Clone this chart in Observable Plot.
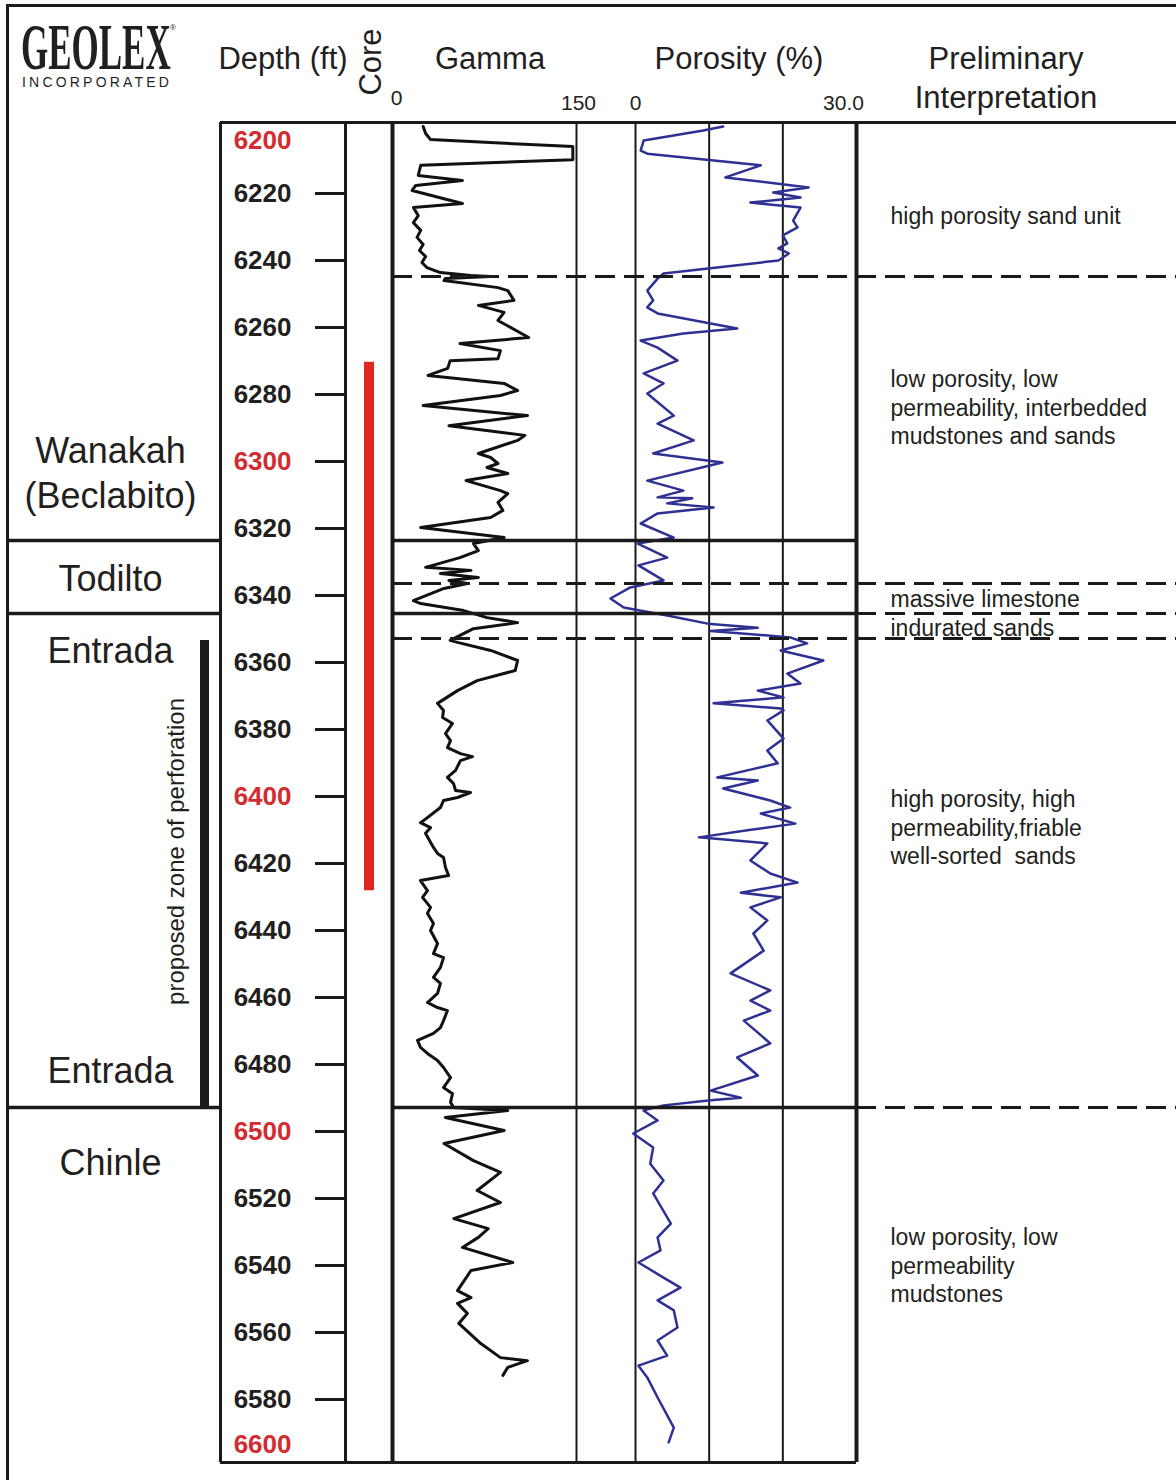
<!DOCTYPE html>
<html>
<head>
<meta charset="utf-8">
<script src="https://cdn.jsdelivr.net/npm/d3@7"></script>
<script src="https://cdn.jsdelivr.net/npm/@observablehq/plot@0.6"></script>
<style>
  body { margin: 0; background: #fff; }
  #page { position: relative; width: 1176px; height: 1480px; overflow: hidden; background: #fff;
          font-family: "Liberation Sans", Arial, Helvetica, sans-serif; color: #231f20; }
  #page svg { position: absolute; left: 0; top: 0; }
  .h { position: absolute; white-space: nowrap; line-height: 1; transform: translate(-50%, -50%); }
  #outer { position: absolute; left: 6px; top: 4px; width: 1200px; height: 1500px;
           border-top: 3px solid #1a1a1a; border-left: 3px solid #1a1a1a; box-sizing: border-box; }
</style>
</head>
<body>
<div id="page"><div id="outer"></div></div>
<script>
// ---------------- DATA ----------------
const gammaDepth = [6200.0,6202.1,6203.9,6206.0,6209.9,6211.6,6214.6,6216.1,6217.6,6219.1,6223.0,6224.2,6226.6,6228.7,6231.0,6233.1,6235.2,6237.0,6238.8,6240.6,6242.1,6243.6,6244.5,6244.8,6245.4,6246.0,6248.1,6249.0,6251.9,6253.4,6255.5,6257.9,6263.0,6264.8,6266.9,6269.3,6269.9,6272.2,6274.3,6276.7,6278.8,6280.3,6283.3,6286.3,6289.3,6292.2,6293.7,6297.6,6298.8,6300.6,6301.8,6303.6,6305.7,6308.7,6309.6,6312.2,6314.6,6316.7,6319.7,6322.7,6324.5,6326.6,6328.7,6331.6,6332.5,6333.4,6334.6,6335.5,6336.4,6337.9,6341.5,6342.4,6344.5,6346.6,6348.1,6349.9,6353.4,6354.0,6356.4,6359.4,6362.4,6365.4,6368.4,
  6372.2,6374.3,6376.4,6378.2,6381.2,6383.3,6385.4,6387.2,6388.1,6389.3,6392.2,6394.3,6396.1,6398.2,6398.8,6400.3,6401.2,6403.3,6407.2,6407.8,6409.3,6411.0,6415.2,6417.0,6418.2,6421.2,6423.6,6425.1,6428.1,6430.1,6433.1,6434.9,6437.9,6440.0,6443.9,6446.9,6448.1,6451.0,6454.0,6455.8,6458.8,6461.5,6463.0,6463.9,6466.9,6469.0,6470.7,6472.8,6474.9,6476.7,6478.8,6480.9,6483.9,6486.9,6488.7,6491.3,6492.8,
  6493.7,6495.8,6499.7,6503.6,6508.7,6512.2,6517.6,6521.2,6526.0,6529.0,6531.6,6534.6,6539.1,6541.5,6547.5,6549.6,6551.3,6554.3,6557.3,6563.3,6567.5,6568.4,6570.4,6572.8];
const gammaValue = [25,27,31,147,147,23,21,57,19,16,57,17,21,17,23,20,25,22,27,24,28,39,64,80,43,42,86,94,99,70,91,86,111,55,88,86,47,45,29,91,102,88,25,110,46,108,102,70,80,86,77,94,60,88,94,86,90,80,23,91,66,70,55,27,64,39,70,46,61,42,17,23,58,77,102,66,47,53,80,102,100,69,53,
  36.7,41.6,40.8,48.9,43.2,47.3,44.8,55.4,65.2,55.4,51.4,44.8,49.7,51.4,63.6,53.0,41.6,39.1,25.3,22.8,31.0,26.9,33.4,36.7,41.6,43.2,45.7,22.8,28.5,24.5,31.0,28.5,33.4,31.0,36.7,33.4,41.6,39.1,33.4,39.1,36.7,28.5,36.7,44.8,41.6,39.1,33.4,20.4,22.8,28.5,36.7,41.6,47.3,41.6,48.9,47.3,49.7,
  94,43,91,42,66,88,69,88,50,78,70,57,98,64,53,64,53,61,54,72,88,110,94,90];

const porosityDepth = [6200.0,6201.2,6204.2,6207.2,6208.1,6211.6,6215.2,6218.2,6219.7,6221.2,6222.7,6224.2,6228.1,6230.1,6232.5,6234.9,6236.4,6237.9,6240.0,6243.9,6245.4,6249.0,6251.9,6254.0,6255.8,6260.3,6261.8,6263.9,6266.0,6269.9,6273.7,6276.7,6279.7,6286.3,6288.7,6293.7,6297.6,6300.3,6305.7,6308.7,6310.7,6311.0,6312.5,6313.7,6315.5,6318.5,6322.7,6324.5,6328.7,6331.0,6335.5,6337.6,6340.9,6343.6,6346.0,6348.4,6349.6,6350.6,6352.5,6354.3,6356.4,6359.4,6363.3,6366.3,6368.4,6370.4,6372.2,6373.7,6374.3,6377.3,6382.7,6386.3,6390.1,6394.3,6395.2,6397.6,6401.2,6403.3,6405.1,6408.1,6410.1,6412.2,6414.0,6419.1,6423.0,6425.7,6428.7,6430.1,6433.1,6437.0,6440.9,6446.0,6452.8,6457.9,6460.9,6463.9,6466.9,6473.7,6477.9,6483.3,6487.8,6489.9,6490.7,6492.2,6493.7,6496.7,6500.6,6504.8,6509.6,6514.6,6518.5,6527.5,6531.6,6535.5,6539.1,6543.6,6546.6,6550.4,6553.4,6558.5,6562.4,6566.9,6569.9,6573.4,6579.4,6588.4,6592.8];
const porosityValue = [11.9,9.2,1.1,0.7,1.6,17.0,12.2,23.5,18.7,22.4,15.6,22.4,21.4,22.0,20.0,20.6,19.4,20.8,19.4,3.8,3.0,1.6,2.4,1.6,3.0,13.8,6.5,0.7,3.0,5.7,1.1,3.8,1.6,5.2,3.0,7.9,2.4,11.8,1.6,6.5,3.0,7.7,4.3,10.6,3.0,0.7,5.2,0.3,4.3,0.4,3.8,-0.7,-3.4,-1.6,4.3,9.8,16.6,10.2,21.0,23.3,19.7,25.5,20.6,22.4,16.6,20.1,10.6,19.7,20.1,17.9,20.1,17.9,19.3,11.1,16.6,11.9,18.3,21.0,17.0,21.7,15.2,8.6,17.9,15.6,18.3,22.0,14.3,19.7,15.6,17.9,16.0,17.4,12.9,18.3,15.6,18.3,14.7,18.3,13.8,16.6,10.2,14.3,10.2,3.8,1.1,3.0,-0.3,2.4,2.0,3.8,2.4,4.8,3.0,3.4,0.4,3.8,6.1,3.0,5.2,5.7,3.0,4.3,0.4,1.6,3.0,5.2,4.5];

const depthTicks = [6220,6240,6260,6280,6300,6320,6340,6360,6380,6400,6420,6440,6460,6480,6500,6520,6540,6560,6580];
const depthRedLabels = [6300,6400,6500];
const depthTopLabel = [6200];
const depthBottomLabel = [6600];
const gammaTicks = [0,150];
const porosityTicks = [0,30];
const porosityGrid = [0,10,20];

const formationNames = ["Wanakah\n(Beclabito)","Todilto","Entrada","Entrada","Chinle"];
const formationLabelDepths = [6302.8,6334.3,6355.8,6481.2,6508.7];
const formationTops = [6323.6,6345.4,6492.8];       // Todilto, Entrada, Chinle
const dashedMarkers = [6244.8,6336.4,6352.8];

const coreInterval = [6270.4,6428.1];
const perforationInterval = [6353.4,6492.8];
const perforationLabel = "proposed zone of perforation";
const perforationLabelDepth = 6416.4;

const interpTexts = [
  "high porosity sand unit",
  "low porosity, low\npermeability, interbedded\nmudstones and sands",
  "massive limestone",
  "indurated sands",
  "high porosity, high\npermeability,friable\nwell-sorted  sands",
  "low porosity, low\npermeability\nmudstones"
];
const interpDepths = [6226.3,6283.6,6340.6,6349.3,6409.0,6539.7];

// ---------------- LAYOUT ----------------
const W = 1176, H = 1480, TOP = 126, BOTTOM = 14;
const COL = {outer: 8, depth: 220, core: 345, gamma: 392, gammaEnd: 576, poro: 635, poroEnd: 856, right: 1176};
const FONT = "Liberation Sans, Arial, Helvetica, sans-serif";
const LINE = "#1a1a1a", TEXT = "#231f20", RED = "#d42a31", CORE_RED = "#e3261f", BLUE = "#2e3192";
const DEPTH_DOMAIN = [6200, 6600];
const FRAME_DY = -4;

const gammaData = gammaDepth.map((d, i) => ({depth: d, gamma: gammaValue[i]})).filter(d => d.gamma != null);
const porosityData = porosityDepth.map((d, i) => ({depth: d, porosity: porosityValue[i]})).filter(d => d.porosity != null);
const formationLabels = formationNames.map((name, i) => ({name, depth: formationLabelDepths[i]}));
const interpData = interpTexts.map((text, i) => ({text, depth: interpDepths[i]}));

function column(left, right, x, y, marks) {
  return Plot.plot({
    width: W, height: H,
    marginLeft: left, marginRight: W - right, marginTop: TOP, marginBottom: BOTTOM,
    x, y: {domain: DEPTH_DOMAIN, reverse: true, label: null, ...y},
    style: {background: "transparent", overflow: "visible", fontFamily: FONT},
    marks
  });
}
const page = document.getElementById("page");
const fullRule = {y1: DEPTH_DOMAIN[0], y2: DEPTH_DOMAIN[1], dy: FRAME_DY, stroke: LINE};

// Gamma track
page.appendChild(column(COL.gamma, COL.gammaEnd, {domain: [0, 150], label: null}, {axis: null}, [
  Plot.ruleX([150], {...fullRule, strokeWidth: 2}),
  Plot.line(gammaData, {x: "gamma", y: "depth", stroke: "#111", strokeWidth: 3}),
  Plot.ruleX([0], {...fullRule, strokeWidth: 4}),
  Plot.axisX([gammaTicks[0]], {anchor: "top", tickSize: 0, tickPadding: 22, dx: 4, fontSize: 21, label: null, color: TEXT, tickFormat: d => String(d)}),
  Plot.axisX([gammaTicks[1]], {anchor: "top", tickSize: 0, tickPadding: 17, dx: 2, fontSize: 21, label: null, color: TEXT, tickFormat: d => String(d)})
]));

// Porosity track
page.appendChild(column(COL.poro, COL.poroEnd, {domain: [0, 30], label: null}, {axis: null}, [
  Plot.ruleX(porosityGrid, {...fullRule, strokeWidth: 2}),
  Plot.line(porosityData, {x: "porosity", y: "depth", stroke: BLUE, strokeWidth: 2.5}),
  Plot.ruleX([30], {...fullRule, strokeWidth: 4}),
  Plot.axisX([porosityTicks[0]], {anchor: "top", tickSize: 0, tickPadding: 17, fontSize: 21, label: null, color: TEXT, tickFormat: d => String(d)}),
  Plot.axisX([porosityTicks[1]], {anchor: "top", tickSize: 0, tickPadding: 17, dx: -13, fontSize: 21, label: null, color: TEXT, tickFormat: d => d.toFixed(1)})
]));

// Depth axis + core column
const depthBlack = depthTicks.filter(d => !depthRedLabels.includes(d));
const depthAxisOpts = {anchor: "left", tickSize: 30, tickPadding: 24, strokeWidth: 3, stroke: LINE,
  fontSize: 26, fontWeight: "bold", label: null, tickFormat: d => String(d)};
const endLabelOpts = {frameAnchor: "left", y: d => d, text: d => String(d), dx: -54, textAnchor: "end",
  fontSize: 26, fontWeight: "bold", fill: RED};
page.appendChild(column(COL.core, COL.gamma, {domain: [0, 1], axis: null}, {}, [
  Plot.axisY(depthBlack, {...depthAxisOpts, color: TEXT}),
  Plot.axisY(depthRedLabels, {...depthAxisOpts, color: RED}),
  Plot.text(depthTopLabel, {...endLabelOpts, dy: 14}),
  Plot.text(depthBottomLabel, {...endLabelOpts, dy: -22}),
  Plot.ruleX([0.5], {y1: coreInterval[0], y2: coreInterval[1], stroke: CORE_RED, strokeWidth: 10})
]));

// Formation column
page.appendChild(column(COL.outer, COL.depth, {domain: [0, 1], axis: null}, {axis: null}, [
  Plot.text(formationLabels, {x: 0.5, dx: -4, y: "depth", text: "name", fontSize: 36, lineHeight: 1.25, fill: TEXT}),
  Plot.ruleX([1], {dx: -16, y1: perforationInterval[0], y2: perforationInterval[1], stroke: LINE, strokeWidth: 9}),
  Plot.text([perforationLabel], {x: 1, dx: -44, y: perforationLabelDepth, text: d => d, rotate: -90, fontSize: 24, fill: TEXT})
]));

// Interpretation column
page.appendChild(column(COL.poroEnd, COL.right, {domain: [0, 1], axis: null}, {axis: null}, [
  Plot.text(interpData, {x: 0, dx: 34, y: "depth", text: "text", textAnchor: "start", fontSize: 23, lineHeight: 1.24, fill: TEXT})
]));

// Structural frame lines (pixel layout scale)
const dash = {stroke: LINE, strokeWidth: 3, strokeDasharray: "20,9"};
page.appendChild(column(0, W, {domain: [0, W], axis: null}, {axis: null}, [
  Plot.ruleY(formationTops, {x1: COL.outer, x2: COL.depth, stroke: LINE, strokeWidth: 3.5}),
  Plot.ruleY(formationTops, {x1: COL.gamma, x2: COL.poroEnd, stroke: LINE, strokeWidth: 3.5}),
  Plot.ruleY(dashedMarkers, {x1: COL.gamma, x2: COL.right, ...dash}),
  Plot.ruleY(formationTops.slice(1), {x1: COL.poroEnd, x2: COL.right, ...dash}),
  Plot.ruleY([DEPTH_DOMAIN[0]], {x1: COL.depth, x2: COL.right, dy: FRAME_DY, stroke: LINE, strokeWidth: 3}),
  Plot.ruleY([DEPTH_DOMAIN[1]], {x1: COL.depth, x2: COL.poroEnd, dy: FRAME_DY, stroke: LINE, strokeWidth: 3}),
  Plot.ruleX([COL.depth, COL.core], {...fullRule, strokeWidth: 3})
]));

// ---------------- HEADER ----------------
function addText(t, x, y, size, extra = "") {
  const el = document.createElement("div");
  el.className = "h";
  el.textContent = t;
  el.style.cssText += `left:${x}px;top:${y}px;font-size:${size}px;${extra}`;
  page.appendChild(el);
  return el;
}
addText("Depth (ft)", 283, 58, 31);
addText("Core", 370, 62, 31, "transform:translate(-50%,-50%) rotate(-90deg);");
addText("Gamma", 490, 58, 31);
addText("Porosity (%)", 739, 58, 31);
addText("Preliminary", 1006, 58, 31);
addText("Interpretation", 1006, 97, 31);

const logo = document.createElement("div");
logo.textContent = "GEOLEX";
logo.style.cssText = "position:absolute;left:21px;top:22px;font:bold 66px 'Liberation Serif','Times New Roman',serif;line-height:0.75;transform:scaleX(0.53);transform-origin:0 0;color:#231f20;white-space:nowrap;";
page.appendChild(logo);
const reg = document.createElement("div");
reg.textContent = "®";
reg.style.cssText = "position:absolute;left:170px;top:24px;font-size:8px;line-height:1;color:#231f20;";
page.appendChild(reg);
const inc = document.createElement("div");
inc.textContent = "INCORPORATED";
inc.style.cssText = "position:absolute;left:22px;top:75px;font-size:14px;letter-spacing:3.2px;line-height:1;color:#231f20;white-space:nowrap;";
page.appendChild(inc);
</script>
</body>
</html>
